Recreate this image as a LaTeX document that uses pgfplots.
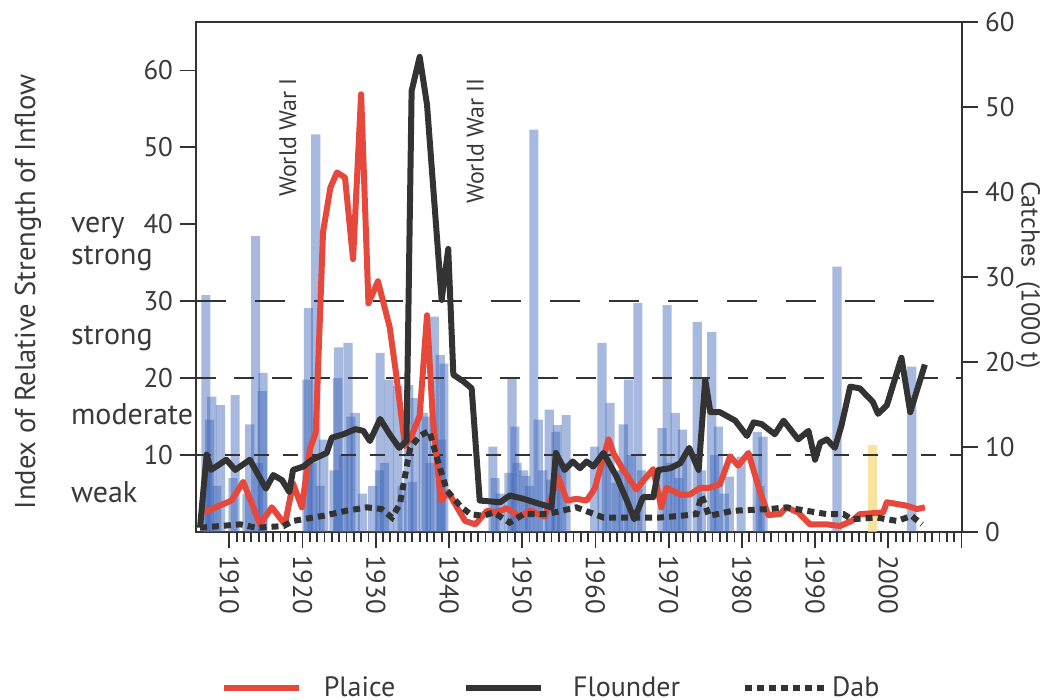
\documentclass[border=0pt]{standalone}
\usepackage{fontspec}
\setmainfont{PT Sans}
\usepackage{pgfplots}
\pgfplotsset{compat=1.18}
\definecolor{txt}{HTML}{3A3A3A}
\definecolor{barblue}{RGB}{60,100,185}
\definecolor{baryel}{RGB}{245,215,120}
\definecolor{plaice}{RGB}{230,72,60}
\definecolor{lin}{HTML}{333333}
\pgfplotsset{
  legA/.style={legend image code/.code={\draw[##1] (0pt,0pt) -- (37.5pt,0pt); \path (46.5pt,0pt);}},
  legB/.style={legend image code/.code={\draw[##1] (0pt,0pt) -- (37.5pt,0pt); \path (50pt,0pt);}},
  legC/.style={legend image code/.code={\draw[##1] (0pt,0pt) -- (40pt,0pt);}},
  inflow/.style={ybar, bar width=1.25, bar shift=0pt, draw=none, fill=barblue, fill opacity=0.45},
}
\begin{document}
\begin{tikzpicture}[font=\fontsize{13.5}{16}\selectfont, text=txt]
\path[use as bounding box] (-98pt,-84pt) rectangle (423.5pt,266pt);
\begin{axis}[
  at={(0pt,0pt)}, anchor=south west,
  width=383pt, height=255pt, scale only axis,
  xmin=1905.45, xmax=2010.07, ymin=0, ymax=66.3,
  axis line style={line width=1.3pt, draw=lin},
  xtick={1910,1920,...,2010},
  xticklabels={1910,1920,1930,1940,1950,1960,1970,1980,1990,2000,{}},
  minor x tick num=9,
  ytick={10,20,...,60},
  xtick pos=left, ytick pos=left,
  tick align=outside,
  major tick length=8pt, minor tick length=5pt,
  tick style={line width=0.9pt, draw=lin},
  x tick label style={rotate=-90, anchor=west, text=txt},
  y tick label style={text=txt},
  /pgf/number format/assume math mode=true,
  /pgf/number format/1000 sep={},
  clip=false,
]
% group A
\addplot[inflow, forget plot] coordinates {
(1906.8,30.8) (1908.8,16.5) (1910.8,17.8) (1913.6,38.5) (1920.8,29.1) (1922.9,12.0)
(1924.9,24.0) (1927.2,15.5) (1930.6,23.3) (1933.0,19.0) (1935.4,17.4) (1938.0,28.0)
(1939.3,21.9) (1946.0,11.1) (1948.6,20.0) (1951.6,52.3) (1953.7,15.9) (1956.0,15.2)
(1959.9,11.1) (1962.0,16.8) (1964.5,19.8) (1969.8,29.5) (1971.9,13.3) (1973.9,27.3)
(1975.9,26.0) (1978.3,7.2) (1979.9,9.8) (1982.1,13.0) (1993.0,34.5) (2003.2,21.5)
};
% group B
\addplot[inflow, forget plot] coordinates {
(1907.6,17.6) (1912.8,14.0) (1914.6,20.7) (1921.8,51.7) (1926.2,24.6) (1931.8,19.8)
(1934.5,19.1) (1936.5,15.5) (1938.8,23.0) (1949.0,13.7) (1952.2,14.6) (1954.8,13.9)
(1960.9,24.6) (1963.8,14.0) (1965.8,29.8) (1969.1,13.5) (1970.9,15.5) (1972.5,10.0)
(1976.8,13.7) (1982.9,12.4)
};
% group C
\addplot[inflow, forget plot] coordinates {
(1907.3,14.6) (1914.5,18.3) (1920.6,19.8) (1924.8,20.0) (1930.5,8.0) (1935.0,6.5)
(1946.3,7.0) (1948.2,7.7) (1950.2,8.0) (1954.6,13.0) (1962.8,6.4)
};
% group D
\addplot[inflow, forget plot] coordinates {
(1907.0,8.0) (1908.3,6.0) (1910.5,7.0) (1912.4,5.0) (1914.0,9.0) (1921.3,9.0)
(1924.3,8.0) (1925.6,10.0) (1928.2,5.0) (1929.6,6.0) (1931.2,9.0) (1933.6,6.0)
(1936.9,15.0) (1939.0,12.0) (1947.0,5.0) (1949.3,9.0) (1951.0,6.0) (1952.8,8.0)
(1955.4,9.0) (1961.5,9.0) (1963.2,8.0) (1964.9,10.0) (1966.3,8.0) (1970.3,9.0)
(1974.5,8.0) (1976.3,10.0) (1977.6,5.0) (1982.5,6.0)
};
% group E
\addplot[inflow, forget plot] coordinates {
(1922.4,6.0) (1926.6,15.0) (1937.4,9.0) (1950.5,7.3) (1953.9,6.8) (1971.4,7.0)
};
\addplot[ybar, bar width=1.25, bar shift=0pt, draw=none, fill=baryel, fill opacity=0.7, forget plot] coordinates {(1997.8,11.3)};
\addplot[lin, line width=1.2pt, dash pattern=on 15pt off 14.5pt, forget plot] coordinates {(1905.45,30) (2010.07,30)};
\addplot[lin, line width=1.2pt, dash pattern=on 10pt off 9pt, forget plot] coordinates {(1905.45,20) (2010.07,20)};
\addplot[lin, line width=1.2pt, dash pattern=on 7.5pt off 7pt, forget plot] coordinates {(1905.45,10) (2010.07,10)};
\node[rotate=90, anchor=east, inner sep=1pt, font=\fontsize{12}{14}\selectfont] at (axis cs:1918.0,59.3) {World War I};
\node[rotate=90, anchor=east, inner sep=1pt, font=\fontsize{12}{14}\selectfont] at (axis cs:1943.6,59.3) {World War II};
\end{axis}
\begin{axis}[
  at={(0pt,0pt)}, anchor=south west,
  width=383pt, height=255pt, scale only axis,
  xmin=1905.45, xmax=2010.07, ymin=0, ymax=60,
  axis x line=none, axis y line*=right,
  axis line style={line width=1.3pt, draw=lin},
  ytick={0,10,...,60},
  tick align=outside,
  major tick length=8pt,
  tick style={line width=0.9pt, draw=lin},
  y tick label style={text=txt},
  /pgf/number format/assume math mode=true,
  legend columns=3,
  legend style={at={(0.024,-0.306)}, anchor=west, draw=none, fill=none,
    /tikz/column 2/.style={column sep=32pt},
    /tikz/column 4/.style={column sep=29pt},
    font=\fontsize{14}{16}\selectfont, text=txt},
  clip=false,
]
\addplot[plaice, line width=3pt, line join=round, legA] coordinates {
(1906.5,2.3) (1910.3,3.7) (1911.9,5.9) (1914.2,0.9) (1915.8,2.9) (1917.6,0.9)
(1918.7,5.7) (1919.9,2.9) (1921.0,9.7) (1921.8,11.7) (1922.8,35.3) (1923.8,40.5)
(1924.7,42.3) (1925.8,41.7) (1926.9,32.1) (1928.0,51.5) (1929.0,26.9) (1930.3,29.5)
(1931.9,24.1) (1932.8,18.5) (1934.0,10.1) (1934.9,11.3) (1936.0,13.7) (1937.0,25.5)
(1937.8,13.3) (1938.9,3.7) (1939.9,4.7) (1941.1,2.9) (1942.2,1.3) (1943.6,0.9)
(1945.2,2.5) (1946.5,2.3) (1947.9,2.8) (1949.6,1.8) (1951.1,2.5) (1953.1,1.8)
(1954.9,6.5) (1956.1,3.7) (1957.4,3.9) (1958.8,3.7) (1959.9,5.1) (1961.8,10.9)
(1962.5,9.2) (1963.8,7.3) (1965.6,5.0) (1966.5,6.0) (1967.9,7.4) (1969.0,2.9)
(1969.7,5.2) (1971.6,4.4) (1972.9,4.4) (1974.3,5.2) (1975.5,5.2) (1977.0,5.6)
(1978.4,8.9) (1979.5,7.8) (1980.9,9.3) (1982.5,4.7) (1983.6,2.0) (1985.2,2.1)
(1986.1,2.9) (1987.7,2.3) (1989.3,0.9) (1991.6,0.9) (1993.4,0.7) (1995.0,1.3)
(1996.1,2.1) (1999.3,2.3) (1999.8,3.5) (2002.5,3.1) (2003.9,2.7) (2005.0,2.9)
};
\addlegendentry{Plaice}
\addplot[lin, line width=3pt, line join=round, legB] coordinates {
(1906.0,0.5) (1906.9,9.1) (1907.5,7.3) (1909.6,8.5) (1910.8,7.3) (1912.8,8.5)
(1915.0,5.1) (1916.0,6.7) (1917.2,6.1) (1918.2,4.7) (1918.7,7.3) (1920.1,7.7)
(1921.3,8.5) (1923.3,9.3) (1924.0,11.1) (1925.6,11.5) (1927.2,12.1) (1928.3,11.9)
(1929.2,10.7) (1930.6,13.3) (1931.9,11.5) (1933.2,9.9) (1934.2,10.7) (1934.9,51.9)
(1936.0,55.9) (1937.0,50.3) (1939.0,27.3) (1939.9,33.3) (1940.6,18.5) (1942.0,17.7)
(1943.1,16.9) (1944.2,3.7) (1947.0,3.5) (1948.3,4.3) (1950.2,3.9) (1952.4,3.3)
(1954.0,2.9) (1954.6,9.3) (1955.8,7.3) (1956.9,8.3) (1957.9,7.5) (1958.8,8.3)
(1959.7,7.7) (1961.1,9.3) (1962.9,6.5) (1964.3,3.7) (1965.3,1.5) (1966.5,4.1)
(1967.9,4.1) (1968.6,7.3) (1970.2,7.5) (1971.6,8.1) (1972.8,9.9) (1974.1,7.3)
(1975.0,17.9) (1975.7,14.1) (1977.0,14.1) (1979.1,13.1) (1980.7,11.3) (1981.6,12.9)
(1982.7,12.7) (1984.5,11.5) (1985.7,13.1) (1987.7,10.9) (1989.1,11.9) (1990.0,8.5)
(1990.7,10.5) (1991.6,10.9) (1992.7,9.9) (1993.6,12.5) (1994.8,17.1) (1996.1,16.9)
(1997.9,15.3) (1998.6,13.9) (1999.8,14.9) (2001.8,20.5) (2003.0,14.1) (2005.0,19.7)
};
\addlegendentry{Flounder}
\addplot[lin, line width=3pt, dash pattern=on 3.5pt off 2.5pt, legC] coordinates {
(1906.0,0.5) (1908.7,0.7) (1911.5,0.9) (1913.7,0.5) (1917.4,0.7) (1918.7,1.3)
(1920.1,1.5) (1922.8,1.9) (1926.0,2.5) (1928.8,2.9) (1930.8,2.7) (1932.2,1.7)
(1933.3,3.3) (1934.7,9.9) (1936.0,11.3) (1937.3,11.9) (1938.3,8.9) (1939.7,4.9)
(1941.5,3.1) (1942.9,2.1) (1944.7,1.9) (1946.1,2.3) (1948.3,1.1) (1950.2,2.1)
(1953.4,2.1) (1957.4,2.9) (1961.1,1.7) (1965.2,1.7) (1968.8,1.7) (1971.6,1.9)
(1973.8,2.1) (1974.5,4.3) (1975.5,1.9) (1978.8,2.5) (1983.8,2.7) (1986.1,2.9)
(1988.8,2.5) (1991.6,2.1) (1993.9,2.1) (1995.0,1.5) (1998.4,1.7) (2001.2,1.3)
(2003.2,1.9) (2004.6,0.9)
};
\addlegendentry{Dab}
\end{axis}
\node[rotate=90, anchor=center, font=\fontsize{14.3}{17}\selectfont] at (-84pt,120pt) {Index of Relative Strength of Inflow};
\node[rotate=-90, anchor=center, font=\fontsize{13}{15}\selectfont] at (416pt,128.5pt) {Catches\ \ (1000 t)};
\begin{scope}[font=\fontsize{15}{18}\selectfont]
\node[anchor=base west] at (-66pt,149.5pt) {very};
\node[anchor=base west] at (-66pt,133.5pt) {strong};
\node[anchor=base west] at (-66pt,93.5pt) {strong};
\node[anchor=base west] at (-66pt,53.5pt) {moderate};
\node[anchor=base west] at (-66pt,14.5pt) {weak};
\end{scope}
\end{tikzpicture}
\end{document}
